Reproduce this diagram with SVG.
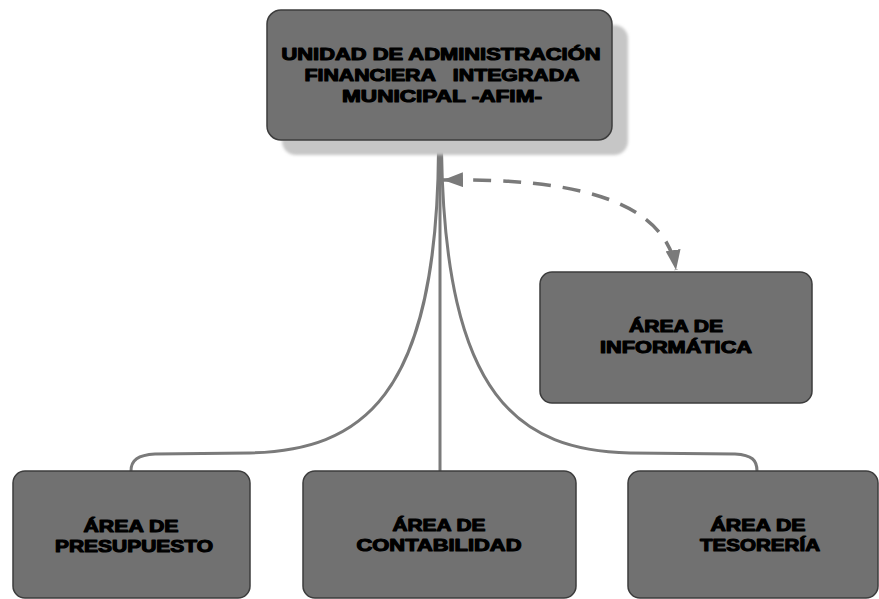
<svg xmlns="http://www.w3.org/2000/svg" width="879" height="599" viewBox="0 0 879 599">
<defs>
<style>
.box{fill:#717171;stroke:#3c3c3c;stroke-width:1.5}
.shadow{fill:#c6c6c6}
.t{font-family:"Liberation Sans",Arial,sans-serif;font-weight:bold;fill:#000;stroke:#000;stroke-width:1.1;stroke-linejoin:round;text-anchor:middle;font-size:16.5px}
.conn{fill:none;stroke:#7a7a7a;stroke-width:3}
.dash{fill:none;stroke:#7a7a7a;stroke-width:3.5;stroke-dasharray:18 12}
</style>
<marker id="ah" viewBox="0 0 20 15" refX="20" refY="7.5" markerWidth="20" markerHeight="15" markerUnits="userSpaceOnUse" orient="auto-start-reverse">
<path d="M0,0 L20,7.5 L0,15 Z" fill="#7a7a7a"/>
</marker>
<filter id="blur" x="-10%" y="-10%" width="120%" height="120%"><feGaussianBlur stdDeviation="1.5"/></filter>
</defs>
<rect width="879" height="599" fill="#fff"/>
<g id="connectors">
<path class="conn" d="M440,140 L440,471"/>
<path class="conn" d="M438.5,150 C437,400 360,450 250,453 L155,454 C138,455 131,460 131,471"/>
<path class="conn" d="M441.5,150 C445,400 520,450 630,453 L735,454 C752,455 757,460 757,471"/>
<path class="dash" d="M443,180 C560,178 665,195 676,270" marker-start="url(#ah)" marker-end="url(#ah)"/>
</g>
<g id="afim">
<rect class="shadow" x="282" y="25" width="346" height="130" rx="14" filter="url(#blur)"/>
<rect class="box" x="267" y="10" width="345" height="130" rx="14"/>
<text class="t" x="441" y="60" textLength="319" lengthAdjust="spacingAndGlyphs">UNIDAD DE ADMINISTRACIÓN</text>
<text class="t" x="442" y="81" textLength="275" lengthAdjust="spacingAndGlyphs" xml:space="preserve">FINANCIERA   INTEGRADA</text>
<text class="t" x="442" y="102" textLength="200" lengthAdjust="spacingAndGlyphs">MUNICIPAL -AFIM-</text>
</g>
<g id="informatica">
<rect class="box" x="540" y="272" width="272" height="131" rx="12"/>
<text class="t" x="676" y="332" textLength="94" lengthAdjust="spacingAndGlyphs">ÁREA DE</text>
<text class="t" x="676" y="353" textLength="152" lengthAdjust="spacingAndGlyphs">INFORMÁTICA</text>
</g>
<g id="presupuesto">
<rect class="box" x="13" y="471" width="237" height="127" rx="12"/>
<text class="t" x="131" y="532" textLength="95" lengthAdjust="spacingAndGlyphs">ÁREA DE</text>
<text class="t" x="134" y="552" textLength="158" lengthAdjust="spacingAndGlyphs">PRESUPUESTO</text>
</g>
<g id="contabilidad">
<rect class="box" x="303" y="471" width="273" height="127" rx="12"/>
<text class="t" x="439" y="531" textLength="93" lengthAdjust="spacingAndGlyphs">ÁREA DE</text>
<text class="t" x="439" y="551" textLength="165" lengthAdjust="spacingAndGlyphs">CONTABILIDAD</text>
</g>
<g id="tesoreria">
<rect class="box" x="628" y="471" width="250" height="127" rx="12"/>
<text class="t" x="758" y="531" textLength="95" lengthAdjust="spacingAndGlyphs">ÁREA DE</text>
<text class="t" x="760" y="551" textLength="120" lengthAdjust="spacingAndGlyphs">TESORERÍA</text>
</g>
</svg>
